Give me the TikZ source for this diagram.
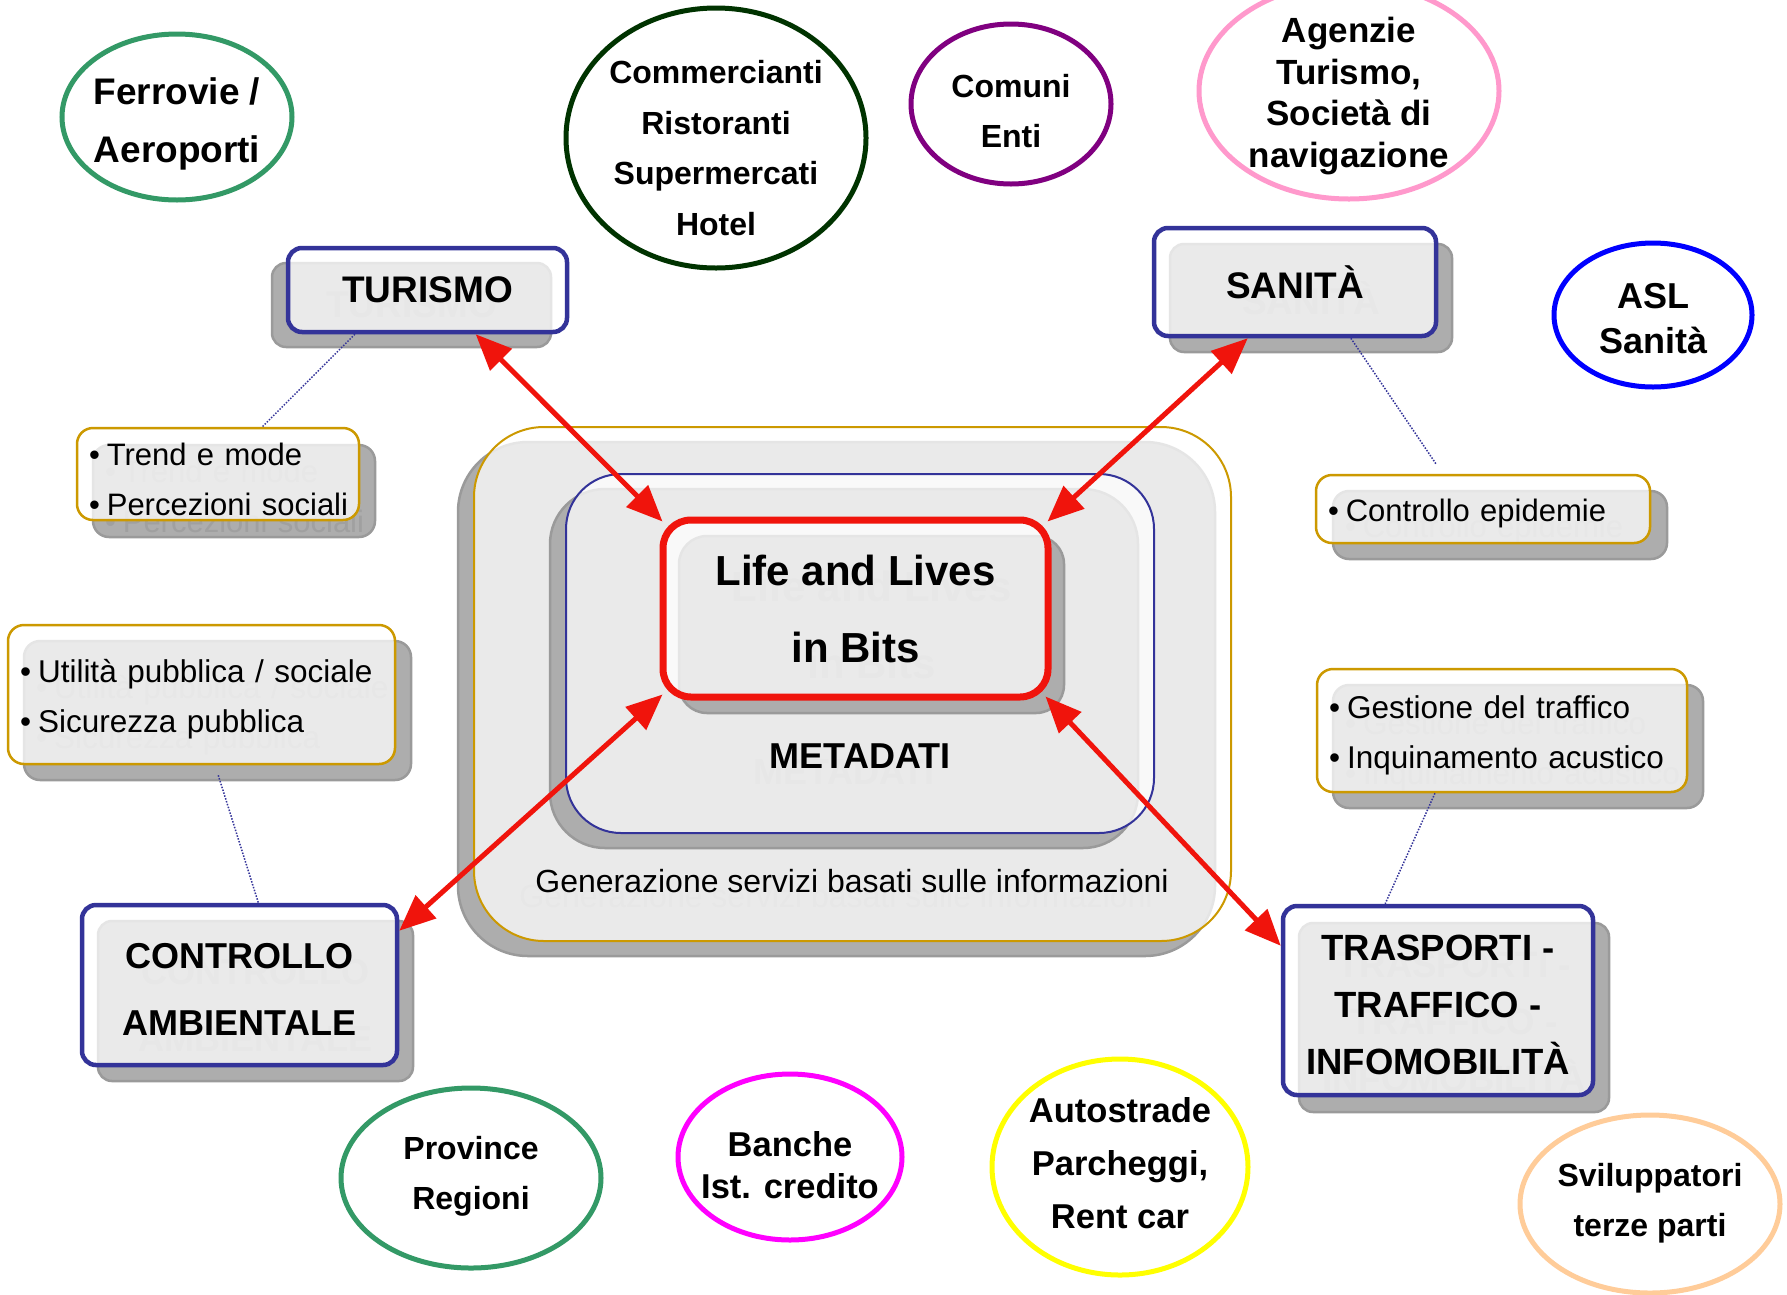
\documentclass[tikz,border=0pt]{standalone}
\usepackage{fontspec}
\setmainfont{Liberation Sans}
\usetikzlibrary{shapes.geometric,arrows.meta,calc}
\definecolor{bboxc}{HTML}{333399}
\definecolor{obox}{HTML}{CC9900}
\definecolor{redc}{RGB}{240,20,12}
\definecolor{shg}{HTML}{ADADAD}
\definecolor{she}{HTML}{9A9A9A}
\definecolor{ghost}{HTML}{A0A0A0}
\definecolor{greenc}{HTML}{339966}
\definecolor{dgreenc}{HTML}{003300}
\definecolor{purplec}{HTML}{800080}
\definecolor{pinkc}{HTML}{FF99CC}
\definecolor{bluec}{HTML}{0000FF}
\definecolor{magc}{HTML}{FF00FF}
\definecolor{yelc}{HTML}{FFFF00}
\definecolor{peachc}{HTML}{FFCC99}
\newcommand\mkshbox[7]{%
  \node[#6, shpart] (#1S) at ($(#2,#3)+(#4,#5)$) {#7};
  \node[#6, mainpart] (#1) at (#2,#3) {#7};}
\newcommand\bul[1]{\mbox{•\hspace{7pt}#1}}
\tikzset{
  shpart/.style={fill=shg, draw=she, line width=2.5pt, text=ghost},
  mainpart/.style={fill=white, fill opacity=0.75, text opacity=1},
  catbox/.style={rectangle, rounded corners=14pt, draw=bboxc, line width=4.5pt, inner sep=0pt, align=center,
    font=\fontsize{37pt}{57pt}\selectfont\bfseries},
  lifebox/.style={rectangle, rounded corners=28pt, draw=redc, line width=7pt, inner sep=0pt, align=center,
    font=\fontsize{42pt}{77pt}\selectfont\bfseries},
  bulbox/.style={rectangle, rounded corners=16pt, draw=obox, line width=2.5pt, inner xsep=12pt, inner ysep=0pt, align=left},
  bigbox/.style={rectangle, rounded corners=70pt, draw=obox, line width=2pt, minimum width=757pt, minimum height=514pt, inner sep=0pt},
  metabox/.style={rectangle, rounded corners=55pt, draw=bboxc, line width=2pt, minimum width=588pt, minimum height=359pt, inner sep=0pt},
  gentext/.style={font=\fontsize{32pt}{38pt}\selectfont, inner sep=0pt},
  metatext/.style={font=\fontsize{36pt}{40pt}\selectfont\bfseries, inner sep=0pt},
  ell/.style={ellipse, line width=5pt, inner sep=0pt},
  elltext/.style={align=center, inner sep=0pt},
  redarr/.style={draw=redc, line width=5pt, {Triangle[length=36pt,width=30pt]}-{Triangle[length=36pt,width=30pt]}},
  dotline/.style={draw=bboxc, line width=1.5pt, dash pattern=on 1.5pt off 1.5pt}
}
\begin{document}
\begin{tikzpicture}[x=1pt,y=-1pt]
\useasboundingbox (0,0) rectangle (1787,1294);
\fill[white] (0,0) rectangle (1787,1294);

% central frame
\node[bigbox, shpart] (outerS) at (836.5,699) {};
\node[gentext, text=ghost] (genG) at (836,896) {Generazione servizi basati sulle informazioni};
\node[bigbox, mainpart] (outer) at (852.5,684) {};
\node[gentext] (gen) at (852,881) {Generazione servizi basati sulle informazioni};

\node[metabox, shpart] (metaS) at (844,668.5) {};
\node[metatext, text=ghost] (metaG) at (844,772) {METADATI};
\node[metabox, mainpart] (meta) at (860,653.5) {};
\node[metatext] (metaT) at (860,756) {METADATI};

\mkshbox{life}{855.5}{608.5}{16}{16}{lifebox, minimum width=385pt, minimum height=177pt}{Life and Lives\\in Bits}

% category boxes
\mkshbox{tur}{427.5}{290}{-16}{15}{catbox, minimum width=279pt, minimum height=84pt}{TURISMO}
\mkshbox{san}{1295}{282}{16}{16}{catbox, minimum width=282pt, minimum height=108pt}{SANITÀ}
\mkshbox{ctrl}{239.5}{985}{16}{16}{catbox, minimum width=315pt, minimum height=160pt, font=\fontsize{36pt}{67pt}\selectfont\bfseries}{\rule{0pt}{34pt}CONTROLLO\\AMBIENTALE}
\mkshbox{tra}{1438}{1000.5}{16}{17}{catbox, minimum width=310pt, minimum height=189pt, font=\fontsize{36.5pt}{57pt}\selectfont\bfseries}{\rule{0pt}{35pt}TRASPORTI -\\TRAFFICO -\\INFOMOBILITÀ}

% arrows
\draw[redarr] ($(life.north west)+(3,5)$) -- ($(tur.south west)!0.67!(tur.south east)$);
\draw[redarr] ($(life.north east)+(-4,5)$) -- ($(san.south west)!0.335!(san.south east)$);
\draw[redarr] ($(life.south west)+(3,-6)$) -- ($(ctrl.north east)+(0,28)$);
\draw[redarr] ($(life.south east)+(-6,-4)$) -- ($(tra.north west)+(0,42)$);

% bullet boxes
\mkshbox{trend}{218}{474}{16}{17}{bulbox, minimum width=282pt, text width=258pt, minimum height=92pt, font=\fontsize{31pt}{50pt}\selectfont}{\rule{0pt}{33pt}\bul{Trend e mode}\\\bul{Percezioni sociali}}
\mkshbox{epid}{1483}{509}{17}{16}{bulbox, minimum width=334pt, text width=310pt, minimum height=68pt, font=\fontsize{31pt}{47pt}\selectfont}{\rule{0pt}{31pt}\bul{Controllo epidemie}}
\mkshbox{util}{201.5}{694.5}{16}{16}{bulbox, minimum width=387pt, text width=363pt, minimum height=139pt, font=\fontsize{31.5pt}{50pt}\selectfont}{\rule{0pt}{33pt}\bul{Utilità pubblica / sociale}\\\bul{Sicurezza pubblica}}
\mkshbox{gest}{1502}{730.5}{16}{16}{bulbox, minimum width=370pt, text width=346pt, minimum height=123pt, font=\fontsize{31.5pt}{50pt}\selectfont}{\rule{0pt}{33pt}\bul{Gestione del traffico}\\\bul{Inquinamento acustico}}

% dotted connectors
\draw[dotline] ($(tur.south west)!0.244!(tur.south east)$) -- ($(trend.north west)!0.656!(trend.north east)$);
\draw[dotline] ($(san.south west)!0.695!(san.south east)$) -- ($(epid.north west)!0.36!(epid.north east)+(0,-10)$);
\draw[dotline] ($(util.south west)!0.543!(util.south east)+(0,10)$) -- ($(ctrl.north west)!0.559!(ctrl.north east)$);
\draw[dotline] ($(gest.south west)!0.32!(gest.south east)$) -- ($(tra.north west)!0.332!(tra.north east)$);

% actors (ellipses)
\node[ell, draw=greenc, minimum width=230pt, minimum height=166pt] (ferr) at (177,117) {};
\node[elltext, font=\fontsize{37pt}{58pt}\selectfont\bfseries] (ferrT) at (177,124) {Ferrovie /\\Aeroporti};

\node[ell, draw=dgreenc, minimum width=300pt, minimum height=260pt] (comm) at (716,138) {};
\node[elltext, font=\fontsize{32pt}{50.5pt}\selectfont\bfseries] (commT) at (716,148) {Commercianti\\Ristoranti\\Supermercati\\Hotel};

\node[ell, draw=purplec, minimum width=200pt, minimum height=160pt] (comu) at (1011,104) {};
\node[elltext, font=\fontsize{32pt}{50pt}\selectfont\bfseries] (comuT) at (1011,111) {Comuni\\Enti};

\node[ell, draw=pinkc, minimum width=300pt, minimum height=216pt] (agen) at (1349,91) {};
\node[elltext, font=\fontsize{35pt}{41.5pt}\selectfont\bfseries] (agenT) at (1349,96) {Agenzie\\Turismo,\\Società di\\navigazione};

\node[ell, draw=bluec, minimum width=198pt, minimum height=144pt] (asl) at (1653,315) {};
\node[elltext, font=\fontsize{36pt}{45pt}\selectfont\bfseries] (aslT) at (1653,319) {ASL\\Sanità};

\node[ell, draw=greenc, minimum width=260pt, minimum height=180pt] (prov) at (471,1178) {};
\node[elltext, font=\fontsize{32pt}{50pt}\selectfont\bfseries] (provT) at (471,1176) {Province\\Regioni};

\node[ell, draw=magc, minimum width=224pt, minimum height=166pt] (banc) at (790,1157) {};
\node[elltext, font=\fontsize{34.5pt}{42pt}\selectfont\bfseries] (bancT) at (790,1165) {Banche\\Ist. credito};

\node[ell, draw=yelc, minimum width=256pt, minimum height=216pt] (auto) at (1120,1167) {};
\node[elltext, font=\fontsize{34.5pt}{53pt}\selectfont\bfseries] (autoT) at (1120,1163) {Autostrade\\Parcheggi,\\Rent car};

\node[ell, draw=peachc, minimum width=260pt, minimum height=178pt] (svil) at (1650,1204) {};
\node[elltext, font=\fontsize{32pt}{50pt}\selectfont\bfseries] (svilT) at (1650,1203) {Sviluppatori\\terze parti};
\end{tikzpicture}
\end{document}
